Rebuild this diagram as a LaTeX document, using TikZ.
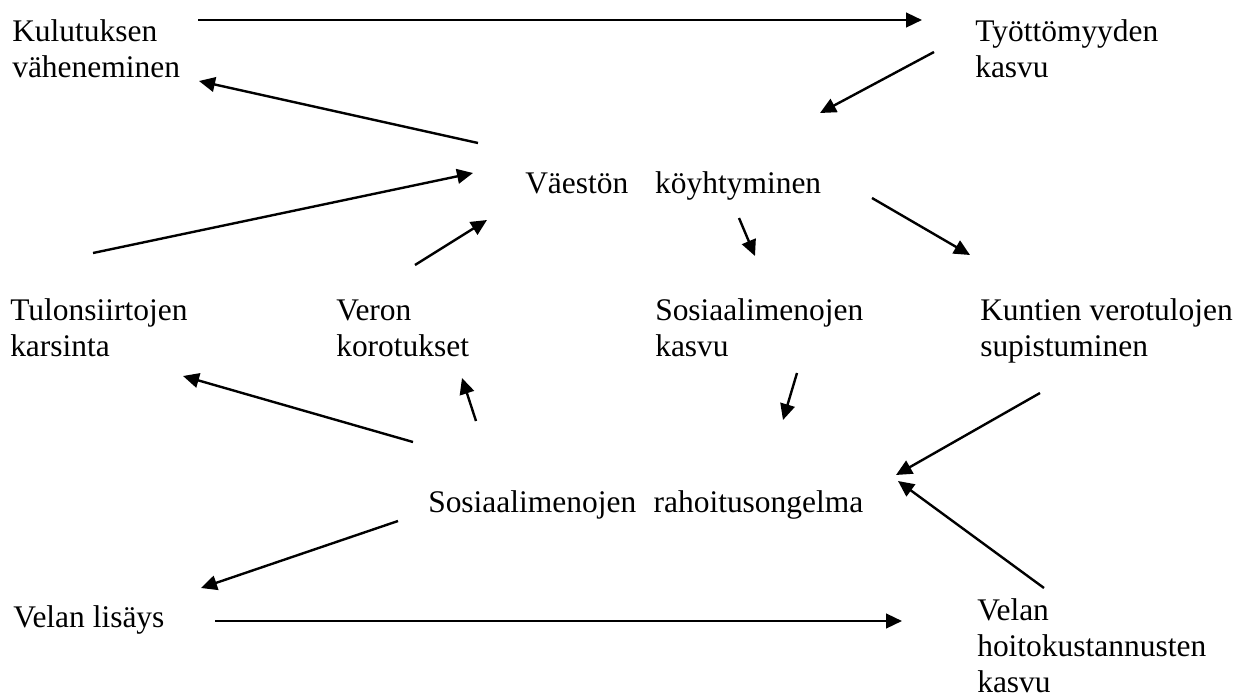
\documentclass[tikz,border=0pt]{standalone}
\usepackage{fontspec}
\setmainfont{Liberation Serif}
\usetikzlibrary{arrows.meta}
\begin{document}
\begin{tikzpicture}[x = 0.75pt, y = -0.75pt,
    teksti/.style = {anchor = base west, inner sep = 0pt, align = left,
      font = \rmfamily\fontsize{23.6}{27}\selectfont},
    nuoli/.style = {-{Triangle[length = 12pt, width = 11pt]}, line width = 1.8pt}]
  \useasboundingbox (0, 0) rectangle (1233, 700);
  % tekstit (base = viimeisen rivin perusviiva)
  \node[teksti] (kulutus) at (12, 77) {Kulutuksen\\väheneminen};
  \node[teksti] (tyottomyys) at (975, 77) {Työttömyyden\\kasvu};
  \node[teksti] (koyhtyminen) at (525, 193) {Väestön\hspace{0.85em}köyhtyminen};
  \node[teksti] (tulonsiirrot) at (10, 356) {Tulonsiirtojen\\karsinta};
  \node[teksti] (korotukset) at (336, 356) {Veron\\korotukset};
  \node[teksti] (sosmenot) at (655, 356) {Sosiaalimenojen\\kasvu};
  \node[teksti] (verotulot) at (980, 356) {Kuntien verotulojen\\supistuminen};
  \node[teksti] (rahoitus) at (428, 512) {Sosiaalimenojen\hspace{0.55em}rahoitusongelma};
  \node[teksti] (velka) at (13, 627) {Velan lisäys};
  \node[teksti] (hoitokulut) at (977, 692) {Velan\\hoitokustannusten\\kasvu};
  % nuolten päät
  \coordinate (kulutus-o) at (198, 20);
  \coordinate (tyottomyys-i) at (922, 20);
  \coordinate (tyottomyys-o) at (934, 52);
  \coordinate (koyhtyminen-i) at (820, 113);
  \coordinate (koyhtyminen-o) at (478, 143);
  \coordinate (kulutus-i) at (199, 81);
  \coordinate (tulonsiirrot-o) at (93, 253);
  \coordinate (koyhtyminen-i2) at (473, 173);
  \coordinate (korotukset-o) at (415, 265);
  \coordinate (koyhtyminen-i3) at (487, 220);
  \coordinate (koyhtyminen-o2) at (739, 218);
  \coordinate (sosmenot-i) at (755, 256);
  \coordinate (koyhtyminen-o3) at (872, 198);
  \coordinate (verotulot-i) at (970, 255);
  \coordinate (sosmenot-o) at (797, 373);
  \coordinate (rahoitus-i) at (783, 420);
  \coordinate (verotulot-o) at (1040, 393);
  \coordinate (rahoitus-i2) at (896, 475);
  \coordinate (rahoitus-o) at (413, 442);
  \coordinate (tulonsiirrot-i) at (183, 376);
  \coordinate (rahoitus-o2) at (476, 421);
  \coordinate (korotukset-i) at (462, 378);
  \coordinate (rahoitus-o3) at (398, 521);
  \coordinate (velka-i) at (201, 588);
  \coordinate (hoitokulut-o) at (1044, 588);
  \coordinate (rahoitus-i3) at (898, 481);
  \coordinate (velka-o) at (215, 621);
  \coordinate (hoitokulut-i) at (902, 621);
  % nuolet
  \draw[nuoli] (kulutus-o) -- (tyottomyys-i);
  \draw[nuoli] (tyottomyys-o) -- (koyhtyminen-i);
  \draw[nuoli] (koyhtyminen-o) -- (kulutus-i);
  \draw[nuoli] (tulonsiirrot-o) -- (koyhtyminen-i2);
  \draw[nuoli] (korotukset-o) -- (koyhtyminen-i3);
  \draw[nuoli] (koyhtyminen-o2) -- (sosmenot-i);
  \draw[nuoli] (koyhtyminen-o3) -- (verotulot-i);
  \draw[nuoli] (sosmenot-o) -- (rahoitus-i);
  \draw[nuoli] (verotulot-o) -- (rahoitus-i2);
  \draw[nuoli] (rahoitus-o) -- (tulonsiirrot-i);
  \draw[nuoli] (rahoitus-o2) -- (korotukset-i);
  \draw[nuoli] (rahoitus-o3) -- (velka-i);
  \draw[nuoli] (hoitokulut-o) -- (rahoitus-i3);
  \draw[nuoli] (velka-o) -- (hoitokulut-i);
\end{tikzpicture}
\end{document}
